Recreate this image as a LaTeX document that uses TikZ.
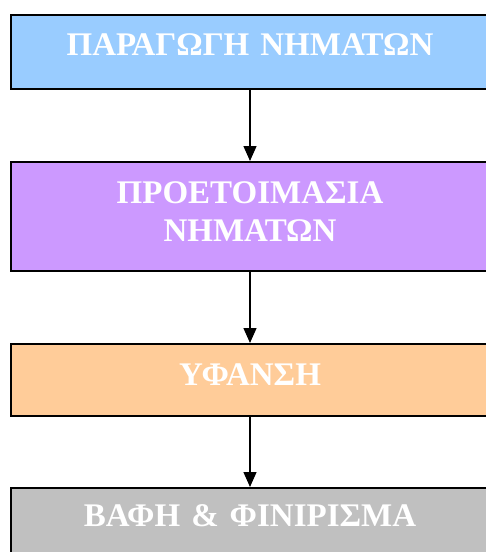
\documentclass[tikz,border=0pt]{standalone}
\usepackage{fontspec}
\setmainfont{Liberation Serif}
\usetikzlibrary{arrows.meta}
\definecolor{mple}{HTML}{99CCFF}
\definecolor{mov}{HTML}{CC99FF}
\definecolor{portok}{HTML}{FFCC99}
\definecolor{gkri}{HTML}{C0C0C0}
\tikzset{
	kouti/.style={draw=black, line width=1.6pt, inner sep=0pt, text width=478pt,
		align=center, text=white, anchor=north,
		font=\fontsize{33}{38}\selectfont\bfseries},
	velos/.style={line width=1.3pt, -{Triangle[width=13pt,length=15pt]}}
}

\begin{document}
\begin{tikzpicture}[x=1pt,y=1pt]

% orio eikonas
\useasboundingbox (0,0) rectangle (486,-552);

% ta kouti
\node[kouti, fill=mple, text height=41pt, text depth=33pt] (nimata) at (250,-14) {ΠΑΡΑΓΩΓΗ ΝΗΜΑΤΩΝ};
\node[kouti, fill=mov, text height=42pt, text depth=67pt] (proet) at (250,-161) {ΠΡΟΕΤΟΙΜΑΣΙΑ\\ΝΗΜΑΤΩΝ};
\node[kouti, fill=portok, text height=42pt, text depth=30pt] (yfansi) at (250,-343) {ΥΦΑΝΣΗ};
\node[kouti, fill=gkri, text height=39pt, text depth=40pt] (vafi) at (250,-487) {ΒΑΦΗ \& ΦΙΝΙΡΙΣΜΑ};

% ta velh
\draw[velos] (nimata) -- (proet);
\draw[velos] (proet) -- (yfansi);
\draw[velos] (yfansi) -- (vafi);

\end{tikzpicture}
\end{document}
